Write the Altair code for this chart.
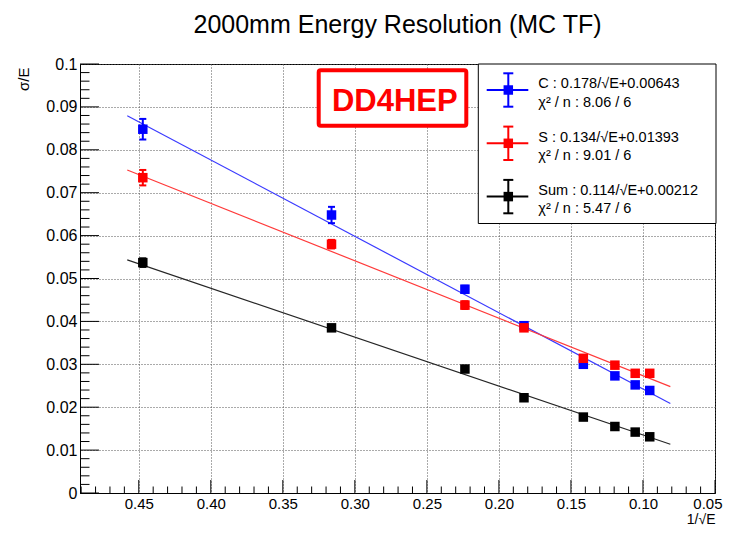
import altair as alt
import pandas as pd

# ---------------- data ----------------
x_inv_sqrt_e = [0.4472, 0.3162, 0.2236, 0.1826, 0.1414, 0.1195, 0.1054, 0.0953]

c_res = [0.0848, 0.0648, 0.0475, 0.0390, 0.0300, 0.0273, 0.0252, 0.0239]
c_err = [0.0024, 0.0019, 0.0008, 0.0006, 0.0005, 0.0004, 0.0004, 0.0004]
s_res = [0.0735, 0.0580, 0.0438, 0.0385, 0.0314, 0.0298, 0.0279, 0.0279]
s_err = [0.0018, 0.0010, 0.0009, 0.0006, 0.0005, 0.0004, 0.0004, 0.0004]
sum_res = [0.0537, 0.0385, 0.0289, 0.0222, 0.0177, 0.0155, 0.0142, 0.0131]
sum_err = [0.0010, 0.0005, 0.0004, 0.0003, 0.0003, 0.0002, 0.0002, 0.0002]

series_names = ["C", "S", "Sum"]
series_res = [c_res, s_res, sum_res]
series_err = [c_err, s_err, sum_err]
marker_colors = ["#0000ff", "#ff0000", "#000000"]
line_colors = ["#3a3aff", "#ff3a3a", "#262626"]

fit_slope = [0.178, 0.134, 0.114]
fit_const = [0.00643, 0.01393, 0.00212]
fit_chi2 = ["8.06", "9.01", "5.47"]
fit_ndf = ["6", "6", "6"]
fit_range = [0.458, 0.081]
fit_const_txt = ["0.00643", "0.01393", "0.00212"]

x_ticks = [0.45, 0.40, 0.35, 0.30, 0.25, 0.20, 0.15, 0.10, 0.05]
x_minor = [0.49, 0.48, 0.47, 0.46, 0.44, 0.43, 0.42, 0.41, 0.39, 0.38, 0.37, 0.36,
           0.34, 0.33, 0.32, 0.31, 0.29, 0.28, 0.27, 0.26, 0.24, 0.23, 0.22, 0.21,
           0.19, 0.18, 0.17, 0.16, 0.14, 0.13, 0.12, 0.11, 0.09, 0.08, 0.07, 0.06]
y_ticks = [0, 0.01, 0.02, 0.03, 0.04, 0.05, 0.06, 0.07, 0.08, 0.09, 0.1]
y_minor = [round(0.002 * k, 3) for k in range(1, 50) if k % 5 != 0]

title_text = "2000mm Energy Resolution (MC TF)"
x_title = "1/√E"
y_title = "σ/E"
logo_text = "DD4HEP"

# ---------------- layout ----------------
W, H = 635, 429
FONT = "Liberation Sans"

points = []
for name, res, err in zip(series_names, series_res, series_err):
    for x, y, e in zip(x_inv_sqrt_e, res, err):
        points.append({"series": name, "x": x, "y": y, "lo": y - e, "hi": y + e})
pts = pd.DataFrame(points)

fits = []
for name, a, b in zip(series_names, fit_slope, fit_const):
    for x in fit_range:
        fits.append({"series": name, "x": x, "y": a * x + b})
fit_df = pd.DataFrame(fits)

xs = alt.Scale(domain=[0.05, 0.4908], reverse=True, nice=False, zero=False)
ys = alt.Scale(domain=[0, 0.1], nice=False, zero=False)
col_mk = alt.Color("series:N", scale=alt.Scale(domain=series_names, range=marker_colors), legend=None)

x_axis = alt.Axis(values=x_ticks, format=".2f", tickSize=0, labelPadding=3, labelFontSize=15,
                  labelFont=FONT, labelColor="black", labelFlush=True, labelFlushOffset=7,
                  labelOverlap=False,
                  grid=True, gridDash=[1, 2], gridColor="#555555", gridWidth=1,
                  domainColor="black", title=x_title, titleFont=FONT, titleFontSize=14,
                  titleFontWeight="normal", titleColor="black", titleAlign="right",
                  titleBaseline="alphabetic", titleX=W, titleY=30)
y_axis = alt.Axis(values=y_ticks, format=".2~f", tickSize=0, labelPadding=3, labelFontSize=16,
                  labelFont=FONT, labelColor="black", labelFlush=False, labelOverlap=False,
                  grid=True, gridDash=[1, 2], gridColor="#555555", gridWidth=1,
                  domainColor="black", title=y_title, titleFont=FONT, titleFontSize=15,
                  titleFontWeight="normal", titleColor="black", titleAngle=270,
                  titleAlign="right", titleBaseline="alphabetic", titleX=-52, titleY=3)


def X(field):
    return alt.X(field, scale=xs, axis=x_axis)


def Y(field):
    return alt.Y(field, scale=ys, axis=y_axis)


xt_major = alt.Chart(pd.DataFrame({"v": x_ticks})).mark_rule(color="black").encode(
    x=X("v:Q"), y=alt.value(H), y2=alt.value(H - 13))
xt_minor = alt.Chart(pd.DataFrame({"v": x_minor})).mark_rule(color="black").encode(
    x=X("v:Q"), y=alt.value(H), y2=alt.value(H - 6.5))
yt_major = alt.Chart(pd.DataFrame({"v": y_ticks})).mark_rule(color="black").encode(
    y=Y("v:Q"), x=alt.value(0), x2=alt.value(19))
yt_minor = alt.Chart(pd.DataFrame({"v": y_minor})).mark_rule(color="black").encode(
    y=Y("v:Q"), x=alt.value(0), x2=alt.value(9.5))

fit_layers = []
for i, name in enumerate(series_names):
    fit_layers.append(
        alt.Chart(fit_df[fit_df.series == name]).mark_line(strokeWidth=1.2, color=line_colors[i]).encode(
            x=X("x:Q"), y=Y("y:Q")))

err_rules = alt.Chart(pts).mark_rule(strokeWidth=2, opacity=1).encode(
    x=X("x:Q"), y=Y("lo:Q"), y2="hi:Q", color=col_mk)
cap_lo = alt.Chart(pts).mark_tick(orient="horizontal", size=7, thickness=2, opacity=1).encode(
    x=X("x:Q"), y=Y("lo:Q"), color=col_mk)
cap_hi = alt.Chart(pts).mark_tick(orient="horizontal", size=7, thickness=2, opacity=1).encode(
    x=X("x:Q"), y=Y("hi:Q"), color=col_mk)
markers = alt.Chart(pts).mark_point(shape="square", filled=True, size=90, opacity=1,
                                    fillOpacity=1, strokeWidth=0).encode(
    x=X("x:Q"), y=Y("y:Q"), color=col_mk)

one = pd.DataFrame({"k": [0]})

title_mark = alt.Chart(one).mark_text(text=title_text, font=FONT, fontSize=25, align="center",
                                      baseline="alphabetic", color="black").encode(
    x=alt.value(W / 2), y=alt.value(-31))

logo_box = alt.Chart(one).mark_rect(fill="white", stroke="#ff0000", strokeWidth=4, cornerRadius=2).encode(
    x=alt.value(238.7), x2=alt.value(386.3), y=alt.value(6.3), y2=alt.value(61.7))
logo_txt = alt.Chart(one).mark_text(text=logo_text, font=FONT, fontSize=31,
                                    fontWeight="bold", align="center", baseline="alphabetic",
                                    color="#ff0000").encode(x=alt.value(314.8), y=alt.value(47.2))

legend_layers = [alt.Chart(one).mark_rect(fill="white", stroke="black", strokeWidth=1).encode(
    x=alt.value(398.3), x2=alt.value(636), y=alt.value(0), y2=alt.value(159.5))]
for i, name in enumerate(series_names):
    yc = 26 + 53.3 * i
    mc = marker_colors[i]
    legend_layers += [
        alt.Chart(one).mark_rule(color=mc, strokeWidth=2).encode(
            x=alt.value(406.7), x2=alt.value(448.3), y=alt.value(yc)),
        alt.Chart(one).mark_rule(color=mc, strokeWidth=2).encode(
            x=alt.value(428.3), y=alt.value(yc - 16.7), y2=alt.value(yc + 16.7)),
        alt.Chart(one).mark_rule(color=mc, strokeWidth=2).encode(
            x=alt.value(423.3), x2=alt.value(433.3), y=alt.value(yc - 16.7)),
        alt.Chart(one).mark_rule(color=mc, strokeWidth=2).encode(
            x=alt.value(423.3), x2=alt.value(433.3), y=alt.value(yc + 16.7)),
        alt.Chart(one).mark_point(shape="square", filled=True, size=90, opacity=1, fillOpacity=1,
                                  strokeWidth=0, color=mc).encode(
            x=alt.value(428.3), y=alt.value(yc)),
        alt.Chart(one).mark_text(
            text=f"{name} : {fit_slope[i]:.3f}/√E+{fit_const_txt[i]}", font=FONT, fontSize=14.5,
            align="left", baseline="alphabetic", color="black").encode(
            x=alt.value(458.3), y=alt.value(yc - 1.7)),
        alt.Chart(one).mark_text(
            text=f"χ² / n : {fit_chi2[i]} / {fit_ndf[i]}", font=FONT, fontSize=14.5,
            align="left", baseline="alphabetic", color="black").encode(
            x=alt.value(458.3), y=alt.value(yc + 16.5)),
    ]

chart = alt.layer(
    xt_major, xt_minor, yt_major, yt_minor,
    *fit_layers, err_rules, cap_lo, cap_hi, markers,
    logo_box, logo_txt, *legend_layers, title_mark,
).properties(
    width=W, height=H,
    autosize=alt.AutoSizeParams(type="none"),
    padding={"left": 72, "top": 56, "right": 8, "bottom": 34},
    background="white",
).configure_view(stroke="black", strokeWidth=1)

chart.save("out.html", embed_options={"renderer": "svg", "actions": False})
